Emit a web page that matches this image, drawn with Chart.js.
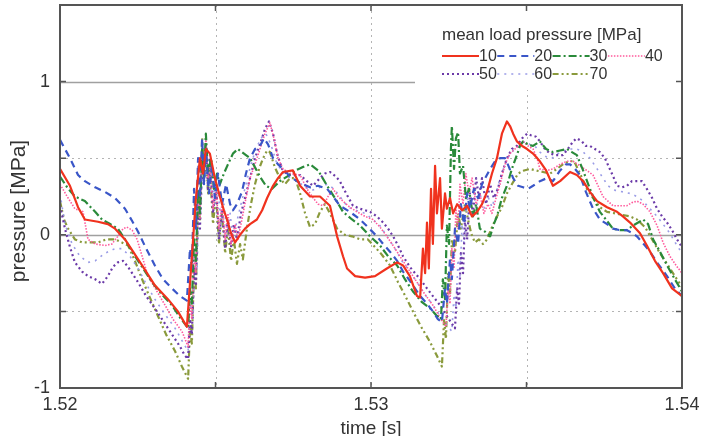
<!DOCTYPE html>
<html>
<head>
<meta charset="utf-8">
<script src="https://cdn.jsdelivr.net/npm/chart.js@4/dist/chart.umd.min.js"></script>
<style>
  html, body { margin: 0; padding: 0; background: #fff; }
  canvas { display: block; }
</style>
</head>
<body>
<canvas id="pressureChart" width="704" height="436"></canvas>
<script>
// [time offset in ms after 1.52 s, pressure in MPa]
const s10 = [[0,0.43],[0.32,0.32],[0.58,0.18],[0.80,0.10],[1.22,0.085],[1.54,0.07],[1.77,0.04],[2.09,-0.03],[2.35,-0.11],[2.64,-0.20],[3.05,-0.33],[3.47,-0.42],[3.79,-0.50],[4.02,-0.58],[4.08,-0.60],[4.28,-0.03],[4.37,0.24],[4.50,0.50],[4.60,0.40],[4.69,0.56],[4.82,0.53],[4.98,0.37],[5.14,0.25],[5.27,0.16],[5.37,0.10],[5.50,0.01],[5.63,-0.05],[5.79,0.00],[5.95,0.04],[6.11,0.07],[6.33,0.10],[6.50,0.16],[6.66,0.24],[6.85,0.32],[7.01,0.37],[7.17,0.41],[7.49,0.42],[7.72,0.32],[8.04,0.25],[8.36,0.25],[8.68,0.19],[8.91,-0.01],[9.10,-0.14],[9.23,-0.22],[9.49,-0.27],[9.81,-0.28],[10.13,-0.27],[10.51,-0.22],[10.84,-0.18],[11.03,-0.20],[11.25,-0.27],[11.48,-0.40],[11.58,-0.41],[11.67,-0.09],[11.74,-0.25],[11.80,0.08],[11.86,-0.22],[11.93,0.30],[11.99,-0.06],[12.06,0.45],[12.12,0.14],[12.22,0.37],[12.28,0.04],[12.38,0.27],[12.44,0.17],[12.54,0.24],[12.64,0.14],[12.77,0.20],[12.93,0.16],[13.09,0.19],[13.25,0.12],[13.41,0.15],[13.57,0.20],[13.73,0.28],[13.89,0.40],[14.05,0.50],[14.21,0.66],[14.37,0.74],[14.47,0.71],[14.57,0.66],[14.69,0.61],[14.86,0.58],[15.02,0.56],[15.21,0.53],[15.43,0.48],[15.63,0.42],[15.85,0.32],[16.08,0.35],[16.40,0.41],[16.62,0.39],[16.82,0.35],[17.04,0.28],[17.27,0.22],[17.59,0.18],[17.91,0.15],[18.10,0.12],[18.33,0.08],[18.65,0.01],[18.87,-0.07],[19.13,-0.17],[19.39,-0.25],[19.68,-0.35],[20,-0.40]];

const s20 = [[0,0.62],[0.32,0.50],[0.58,0.39],[0.80,0.35],[1.13,0.31],[1.45,0.28],[1.77,0.24],[2.09,0.17],[2.32,0.09],[2.51,0.02],[2.77,-0.09],[3.05,-0.20],[3.31,-0.29],[3.60,-0.35],[3.86,-0.40],[4.08,-0.43],[4.18,-0.09],[4.24,-0.22],[4.31,0.30],[4.37,0.04],[4.44,0.50],[4.50,0.24],[4.57,0.63],[4.63,0.33],[4.69,0.56],[4.79,0.27],[4.89,0.46],[4.98,0.24],[5.08,0.40],[5.21,0.20],[5.34,0.33],[5.47,0.20],[5.56,0.16],[5.69,0.20],[5.85,0.28],[5.98,0.40],[6.11,0.50],[6.27,0.56],[6.43,0.58],[6.56,0.63],[6.69,0.59],[6.85,0.50],[7.01,0.46],[7.17,0.43],[7.40,0.38],[7.62,0.35],[7.81,0.33],[8.04,0.31],[8.30,0.32],[8.59,0.30],[8.78,0.25],[9.00,0.19],[9.32,0.15],[9.65,0.10],[9.90,0.05],[10.19,-0.01],[10.39,-0.06],[10.61,-0.11],[10.84,-0.17],[11.03,-0.24],[11.25,-0.30],[11.58,-0.40],[11.80,-0.45],[11.99,-0.50],[12.15,-0.55],[12.28,-0.57],[12.38,-0.35],[12.44,-0.45],[12.54,-0.16],[12.60,-0.29],[12.70,0.04],[12.80,-0.06],[12.89,0.20],[12.99,0.07],[13.09,0.27],[13.18,0.17],[13.31,0.30],[13.44,0.24],[13.57,0.33],[13.70,0.38],[13.83,0.43],[13.99,0.48],[14.15,0.50],[14.31,0.50],[14.44,0.44],[14.57,0.37],[14.73,0.32],[14.89,0.31],[15.05,0.30],[15.21,0.32],[15.43,0.35],[15.66,0.37],[15.85,0.35],[16.08,0.42],[16.27,0.46],[16.40,0.46],[16.56,0.43],[16.72,0.39],[16.91,0.28],[17.14,0.17],[17.36,0.10],[17.59,0.07],[17.78,0.04],[18.01,0.03],[18.23,0.03],[18.42,0.01],[18.55,-0.01],[18.81,-0.07],[18.97,-0.11],[19.23,-0.19],[19.52,-0.27],[19.77,-0.35],[20,-0.40]];

const s30 = [[0,0.38],[0.23,0.31],[0.48,0.25],[0.80,0.22],[1.13,0.15],[1.35,0.10],[1.61,0.07],[1.86,0.04],[2.09,-0.03],[2.32,-0.11],[2.64,-0.21],[2.96,-0.31],[3.28,-0.39],[3.60,-0.46],[3.86,-0.54],[4.12,-0.61],[4.18,-0.35],[4.24,-0.45],[4.31,-0.03],[4.37,-0.17],[4.44,0.30],[4.50,0.14],[4.57,0.56],[4.63,0.37],[4.69,0.66],[4.76,0.40],[4.86,0.50],[4.95,0.30],[5.05,0.40],[5.14,0.33],[5.27,0.40],[5.40,0.46],[5.56,0.53],[5.72,0.56],[5.85,0.54],[5.98,0.52],[6.11,0.50],[6.27,0.44],[6.43,0.38],[6.62,0.32],[6.82,0.30],[7.07,0.35],[7.30,0.38],[7.56,0.42],[7.78,0.44],[8.04,0.46],[8.30,0.42],[8.59,0.32],[8.84,0.24],[9.10,0.15],[9.39,0.10],[9.65,0.06],[9.97,-0.01],[10.29,-0.07],[10.55,-0.14],[10.84,-0.20],[11.09,-0.29],[11.35,-0.37],[11.64,-0.44],[11.90,-0.48],[12.12,-0.53],[12.25,-0.55],[12.31,-0.29],[12.38,-0.42],[12.44,0.06],[12.51,-0.06],[12.57,0.56],[12.60,0.71],[12.67,0.43],[12.73,0.63],[12.80,0.67],[12.86,0.40],[12.96,0.45],[13.05,0.24],[13.15,0.30],[13.28,0.12],[13.38,0.20],[13.50,0.04],[13.67,0.02],[13.83,-0.01],[13.95,0.07],[14.05,0.12],[14.21,0.24],[14.37,0.32],[14.53,0.43],[14.69,0.52],[14.79,0.58],[14.89,0.61],[15.05,0.59],[15.21,0.58],[15.43,0.61],[15.63,0.56],[15.85,0.54],[16.08,0.55],[16.30,0.56],[16.46,0.54],[16.62,0.52],[16.82,0.42],[17.04,0.30],[17.20,0.22],[17.36,0.15],[17.59,0.09],[17.78,0.04],[18.01,0.03],[18.23,0.03],[18.42,0.06],[18.59,0.08],[18.75,0.10],[18.91,0.07],[19.07,-0.03],[19.29,-0.11],[19.52,-0.20],[19.77,-0.29],[20,-0.37]];

const s40 = [[0,0.33],[0.23,0.25],[0.48,0.17],[0.74,0.15],[0.90,-0.03],[1.13,-0.06],[1.45,-0.07],[1.67,-0.06],[1.86,-0.01],[2.03,0.04],[2.15,0.05],[2.32,0.03],[2.48,-0.03],[2.64,-0.14],[2.83,-0.27],[3.12,-0.37],[3.38,-0.46],[3.63,-0.55],[3.92,-0.63],[4.12,-0.73],[4.18,-0.42],[4.24,-0.55],[4.31,-0.12],[4.37,-0.25],[4.44,0.24],[4.50,0.10],[4.57,0.56],[4.63,0.40],[4.69,0.63],[4.76,0.37],[4.82,0.46],[4.92,0.17],[5.02,0.30],[5.11,0.04],[5.21,0.20],[5.31,-0.03],[5.40,0.14],[5.50,-0.06],[5.63,0.07],[5.72,-0.03],[5.85,0.10],[5.98,0.24],[6.11,0.37],[6.27,0.46],[6.43,0.56],[6.59,0.66],[6.75,0.73],[6.88,0.63],[7.01,0.50],[7.17,0.43],[7.40,0.40],[7.72,0.39],[7.94,0.30],[8.14,0.24],[8.30,0.20],[8.46,0.19],[8.62,0.25],[8.78,0.30],[8.94,0.25],[9.10,0.22],[9.32,0.18],[9.55,0.15],[9.81,0.12],[10.06,0.10],[10.29,0.05],[10.51,-0.01],[10.71,-0.07],[10.93,-0.14],[11.19,-0.22],[11.48,-0.31],[11.74,-0.39],[11.99,-0.46],[12.22,-0.54],[12.41,-0.60],[12.48,-0.35],[12.54,-0.45],[12.60,-0.09],[12.67,-0.22],[12.73,0.17],[12.80,0.04],[12.86,0.33],[12.96,0.20],[13.05,0.40],[13.15,0.27],[13.25,0.37],[13.38,0.20],[13.50,0.27],[13.63,0.14],[13.76,0.20],[13.89,0.14],[14.02,0.24],[14.15,0.33],[14.31,0.46],[14.47,0.53],[14.63,0.56],[14.79,0.59],[14.89,0.61],[15.05,0.58],[15.21,0.56],[15.34,0.50],[15.43,0.43],[15.66,0.42],[15.85,0.43],[16.08,0.46],[16.30,0.48],[16.50,0.48],[16.72,0.45],[16.94,0.42],[17.14,0.39],[17.30,0.32],[17.46,0.25],[17.62,0.22],[17.78,0.19],[18.01,0.19],[18.23,0.19],[18.39,0.21],[18.55,0.22],[18.75,0.20],[18.97,0.15],[19.20,0.06],[19.39,-0.05],[19.61,-0.14],[19.81,-0.20],[20,-0.25]];

const s50 = [[0,0.19],[0.16,0.04],[0.32,-0.08],[0.48,-0.18],[0.71,-0.24],[0.90,-0.27],[1.13,-0.29],[1.35,-0.32],[1.54,-0.27],[1.70,-0.21],[1.86,-0.18],[2.03,-0.17],[2.19,-0.21],[2.35,-0.26],[2.51,-0.31],[2.77,-0.40],[3.05,-0.48],[3.31,-0.56],[3.60,-0.65],[3.86,-0.73],[4.02,-0.79],[4.12,-0.81],[4.18,-0.55],[4.24,-0.65],[4.31,-0.22],[4.37,-0.32],[4.44,0.17],[4.50,0.04],[4.57,0.50],[4.63,0.33],[4.69,0.59],[4.76,0.30],[4.82,0.50],[4.92,0.14],[5.02,0.33],[5.11,-0.03],[5.21,0.17],[5.31,-0.09],[5.40,0.10],[5.50,-0.08],[5.59,0.07],[5.69,-0.03],[5.82,0.14],[5.95,0.24],[6.11,0.37],[6.27,0.50],[6.43,0.59],[6.59,0.69],[6.72,0.74],[6.85,0.66],[6.98,0.53],[7.14,0.43],[7.33,0.39],[7.56,0.39],[7.72,0.39],[7.94,0.35],[8.14,0.32],[8.36,0.37],[8.52,0.40],[8.68,0.41],[8.87,0.38],[9.00,0.35],[9.20,0.27],[9.42,0.19],[9.65,0.17],[9.97,0.15],[10.19,0.12],[10.39,0.08],[10.55,0.04],[10.71,-0.01],[10.87,-0.07],[11.03,-0.14],[11.25,-0.21],[11.58,-0.29],[11.80,-0.35],[11.99,-0.40],[12.22,-0.46],[12.44,-0.53],[12.60,-0.58],[12.70,-0.61],[12.77,-0.35],[12.83,-0.45],[12.89,-0.12],[12.96,-0.25],[13.02,0.10],[13.09,-0.03],[13.18,0.27],[13.28,0.14],[13.38,0.37],[13.47,0.24],[13.57,0.37],[13.70,0.20],[13.83,0.33],[13.95,0.24],[14.08,0.30],[14.21,0.40],[14.37,0.50],[14.53,0.56],[14.69,0.58],[14.86,0.63],[15.02,0.66],[15.14,0.65],[15.31,0.64],[15.43,0.61],[15.59,0.56],[15.76,0.53],[15.95,0.52],[16.17,0.52],[16.33,0.56],[16.50,0.61],[16.62,0.63],[16.78,0.61],[16.91,0.58],[17.04,0.58],[17.20,0.56],[17.36,0.54],[17.52,0.50],[17.68,0.43],[17.81,0.37],[17.91,0.32],[18.07,0.31],[18.23,0.32],[18.39,0.35],[18.55,0.35],[18.71,0.35],[18.87,0.30],[19.04,0.24],[19.20,0.17],[19.36,0.12],[19.52,0.08],[19.68,0.03],[19.84,-0.03],[20,-0.08]];

const s60 = [[0,0.27],[0.16,0.07],[0.39,-0.06],[0.64,-0.14],[0.90,-0.18],[1.13,-0.17],[1.45,-0.12],[1.77,-0.09],[1.99,-0.09],[2.25,-0.14],[2.51,-0.22],[2.77,-0.32],[3.05,-0.42],[3.38,-0.52],[3.70,-0.61],[3.95,-0.70],[4.12,-0.76],[4.18,-0.45],[4.28,-0.55],[4.34,-0.09],[4.41,-0.22],[4.47,0.27],[4.53,0.14],[4.60,0.53],[4.66,0.37],[4.73,0.56],[4.79,0.33],[4.89,0.43],[4.98,0.20],[5.08,0.30],[5.18,0.07],[5.27,0.20],[5.37,0.01],[5.47,0.14],[5.56,-0.03],[5.69,0.09],[5.82,0.20],[5.98,0.33],[6.14,0.46],[6.30,0.56],[6.46,0.63],[6.62,0.66],[6.78,0.59],[6.95,0.48],[7.14,0.41],[7.40,0.37],[7.65,0.35],[7.88,0.31],[8.10,0.29],[8.36,0.31],[8.59,0.33],[8.81,0.30],[9.00,0.25],[9.26,0.18],[9.52,0.16],[9.81,0.14],[10.06,0.10],[10.29,0.06],[10.51,-0.01],[10.74,-0.08],[10.99,-0.17],[11.25,-0.24],[11.51,-0.32],[11.77,-0.40],[12.03,-0.47],[12.25,-0.54],[12.44,-0.59],[12.60,-0.63],[12.67,-0.39],[12.73,-0.48],[12.80,-0.16],[12.86,-0.27],[12.93,0.07],[12.99,-0.06],[13.09,0.24],[13.18,0.12],[13.28,0.30],[13.38,0.17],[13.50,0.27],[13.63,0.17],[13.76,0.25],[13.89,0.18],[14.02,0.27],[14.15,0.37],[14.31,0.46],[14.47,0.53],[14.63,0.56],[14.79,0.58],[14.95,0.61],[15.11,0.59],[15.27,0.58],[15.43,0.54],[15.63,0.51],[15.82,0.50],[16.01,0.53],[16.21,0.55],[16.40,0.56],[16.62,0.56],[16.82,0.54],[17.04,0.50],[17.27,0.43],[17.46,0.37],[17.62,0.32],[17.85,0.29],[18.10,0.28],[18.33,0.27],[18.55,0.25],[18.75,0.22],[18.97,0.17],[19.20,0.12],[19.39,0.07],[19.61,0.01],[19.81,-0.06],[20,-0.12]];

const s70 = [[0,0.22],[0.13,0.10],[0.26,0.04],[0.48,-0.03],[0.71,-0.05],[0.96,-0.05],[1.22,-0.05],[1.48,-0.03],[1.77,-0.03],[1.99,-0.05],[2.19,-0.07],[2.41,-0.17],[2.64,-0.29],[2.89,-0.41],[3.15,-0.53],[3.41,-0.65],[3.70,-0.76],[3.92,-0.86],[4.12,-0.94],[4.18,-0.61],[4.24,-0.71],[4.31,-0.22],[4.37,-0.35],[4.44,0.24],[4.50,0.10],[4.57,0.63],[4.63,0.43],[4.69,0.56],[4.76,0.27],[4.82,0.43],[4.92,0.07],[5.02,0.27],[5.11,-0.06],[5.21,0.14],[5.31,-0.12],[5.40,0.04],[5.50,-0.17],[5.59,-0.03],[5.69,-0.19],[5.79,-0.06],[5.88,-0.16],[6.01,0.04],[6.14,0.20],[6.27,0.33],[6.40,0.43],[6.53,0.50],[6.66,0.55],[6.75,0.54],[6.91,0.44],[7.07,0.37],[7.23,0.33],[7.40,0.37],[7.56,0.37],[7.72,0.27],[7.88,0.14],[8.04,0.05],[8.20,0.07],[8.36,0.15],[8.52,0.20],[8.68,0.14],[8.91,0.04],[9.16,0.00],[9.39,-0.01],[9.65,-0.03],[9.90,-0.03],[10.13,-0.08],[10.35,-0.13],[10.61,-0.20],[10.87,-0.31],[11.13,-0.41],[11.35,-0.50],[11.61,-0.60],[11.90,-0.70],[12.12,-0.79],[12.28,-0.86],[12.35,-0.55],[12.41,-0.68],[12.48,-0.25],[12.54,-0.39],[12.60,-0.03],[12.70,-0.12],[12.80,0.14],[12.89,0.04],[13.02,0.20],[13.12,0.10],[13.22,0.01],[13.34,-0.05],[13.47,-0.03],[13.60,-0.06],[13.73,-0.03],[13.89,0.05],[14.05,0.12],[14.21,0.18],[14.37,0.27],[14.53,0.33],[14.73,0.40],[14.92,0.42],[15.11,0.43],[15.31,0.42],[15.53,0.41],[15.76,0.40],[15.98,0.43],[16.17,0.46],[16.37,0.48],[16.53,0.48],[16.72,0.40],[16.94,0.30],[17.14,0.24],[17.36,0.18],[17.59,0.15],[17.85,0.14],[18.07,0.13],[18.33,0.12],[18.55,0.10],[18.81,0.05],[19.04,-0.03],[19.29,-0.12],[19.52,-0.19],[19.77,-0.27],[20,-0.34]];

const seriesLabels = ["10", "20", "30", "40", "50", "60", "70"];
const legendTitle = "mean load pressure [MPa]";
const yTitle = "pressure [MPa]";
const xStartSeconds = 1.52;
const xTickLabels = [1.52, 1.53, 1.54]; // at 0, 10, 20 ms
const yTickLabels = [-1, 0, 1];

const styles = [
    { color: "#f0321e", dash: [], width: 2.2 },
    { color: "#3a56c8", dash: [7, 5], width: 2.2 },
    { color: "#2a8a3a", dash: [8, 3, 2, 3], width: 2.2 },
    { color: "#ff5a9c", dash: [1.5, 1.5], width: 1.6 },
    { color: "#6b3aa8", dash: [2, 3], width: 2.2 },
    { color: "#9a9ce6", dash: [2, 5], width: 1.6 },
    { color: "#8a9a3c", dash: [6, 3, 2, 3, 2, 3], width: 2.2 },
];

const series = [s10, s20, s30, s40, s50, s60, s70];

const FONT = "'Liberation Sans', Arial, sans-serif";
Chart.defaults.font.family = FONT;
Chart.defaults.color = "#333";

const frame = {
    id: "frame",
    beforeDatasetsDraw(chart) {
        const { ctx, chartArea: a, scales: { x, y } } = chart;
        ctx.save();
        ctx.strokeStyle = "#a0a0a0";
        ctx.lineWidth = 1.5;
        [0, 1].forEach((v) => {
            const py = Math.round(y.getPixelForValue(v)) + 0.5;
            ctx.beginPath(); ctx.moveTo(a.left, py); ctx.lineTo(a.right, py); ctx.stroke();
        });
        ctx.setLineDash([2, 4]);
        ctx.strokeStyle = "#b4b4b4";
        ctx.lineWidth = 1;
        [-0.5, 0.5].forEach((v) => {
            const py = Math.round(y.getPixelForValue(v)) + 0.5;
            ctx.beginPath(); ctx.moveTo(a.left, py); ctx.lineTo(a.right, py); ctx.stroke();
        });
        [5, 10, 15].forEach((v) => {
            const px = Math.round(x.getPixelForValue(v)) + 0.5;
            ctx.beginPath(); ctx.moveTo(px, a.top); ctx.lineTo(px, a.bottom); ctx.stroke();
        });
        ctx.restore();
    },
    afterDatasetsDraw(chart) {
        const { ctx, chartArea: a } = chart;
        ctx.save();
        ctx.fillStyle = "#fff";
        ctx.fillRect(415, a.top, a.right - 415, 90 - a.top);
        ctx.fillStyle = "#333";
        ctx.textBaseline = "middle";
        ctx.font = "17px " + FONT;
        ctx.fillText(legendTitle, 442, 35);
        ctx.font = "16px " + FONT;
        chart.data.datasets.forEach((ds, i) => {
            const lx = 442 + (i % 4) * 55.3;
            const ly = 56 + Math.floor(i / 4) * 18;
            ctx.strokeStyle = ds.borderColor;
            ctx.lineWidth = ds.borderWidth;
            ctx.setLineDash(ds.borderDash);
            ctx.beginPath(); ctx.moveTo(lx, ly); ctx.lineTo(lx + 37, ly); ctx.stroke();
            ctx.fillText(ds.label, lx + 37, ly + 1);
        });
        ctx.restore();
    },
    afterDraw(chart) {
        const { ctx, chartArea: a, scales: { x, y } } = chart;
        ctx.save();
        ctx.strokeStyle = "#555";
        ctx.lineWidth = 2;
        ctx.strokeRect(a.left, a.top, a.right - a.left, a.bottom - a.top);
        ctx.lineWidth = 1.5;
        [5, 10, 15].forEach((v) => {
            const px = x.getPixelForValue(v);
            ctx.beginPath();
            ctx.moveTo(px, a.bottom); ctx.lineTo(px, a.bottom - 6);
            ctx.moveTo(px, a.top); ctx.lineTo(px, a.top + 6);
            ctx.stroke();
        });
        [-0.5, 0, 0.5, 1].forEach((v) => {
            const py = y.getPixelForValue(v);
            ctx.beginPath();
            ctx.moveTo(a.left, py); ctx.lineTo(a.left + 6, py);
            ctx.moveTo(a.right, py); ctx.lineTo(a.right - 6, py);
            ctx.stroke();
        });
        // y-axis title, set a little below the axis centre as in the source figure
        ctx.translate(19, 211);
        ctx.rotate(-Math.PI / 2);
        ctx.fillStyle = "#333";
        ctx.font = "21px " + FONT;
        ctx.textAlign = "center";
        ctx.textBaseline = "middle";
        ctx.fillText(yTitle, 0, 0);
        ctx.restore();
    },
};

new Chart(document.getElementById("pressureChart"), {
    type: "line",
    data: {
        datasets: series.map((s, i) => ({
            label: seriesLabels[i],
            data: s.map((d) => ({ x: d[0], y: d[1] })),
            borderColor: styles[i].color,
            borderDash: styles[i].dash,
            borderWidth: styles[i].width,
            pointRadius: 0,
            tension: 0,
            fill: false,
            borderJoinStyle: "round",
        })),
    },
    options: {
        responsive: false,
        animation: false,
        devicePixelRatio: 1,
        layout: {
            padding: { top: 5, right: 22, left: 0, bottom: 0 },
        },
        plugins: {
            legend: { display: false },
            tooltip: { enabled: false },
        },
        scales: {
            x: {
                type: "linear",
                min: 0,
                max: 20,
                afterFit: (s) => { s.height = 48; s.paddingLeft = 0; s.paddingRight = 0; },
                ticks: {
                    stepSize: 5,
                    autoSkip: false,
                    maxRotation: 0,
                    padding: 6,
                    font: { size: 18 },
                    color: "#333",
                    callback: (v) => {
                        const t = +(xStartSeconds + v / 1000).toFixed(3);
                        return xTickLabels.includes(t) ? t.toFixed(2) : "";
                    },
                },
                grid: { display: false, drawTicks: false },
                border: { display: false },
                title: {
                    display: true,
                    text: "time [s]",
                    font: { size: 19 },
                    color: "#333",
                    padding: { top: 0, bottom: -4 },
                },
            },
            y: {
                min: -1,
                max: 1.5,
                afterFit: (s) => { s.width = 60; s.paddingTop = 0; s.paddingBottom = 0; },
                ticks: {
                    stepSize: 0.5,
                    autoSkip: false,
                    padding: 10,
                    font: { size: 18 },
                    color: "#333",
                    callback: (v) => (yTickLabels.includes(v) ? String(v) : ""),
                },
                grid: { display: false, drawTicks: false },
                border: { display: false },
            },
        },
    },
    plugins: [frame],
});
</script>
</body>
</html>
